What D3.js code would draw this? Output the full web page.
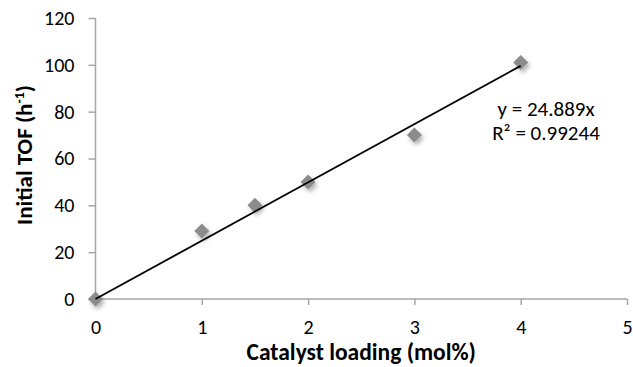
<!DOCTYPE html>
<html><head><meta charset="utf-8">
<script src="https://cdn.jsdelivr.net/npm/d3@7"></script>
<style>body{margin:0;background:#fff;} text{font-family:Carlito,"Open Sans","Liberation Sans",sans-serif;}</style>
</head><body>
<svg id="c" width="633" height="367"></svg>
<script>
const loading = [0, 1, 1.5, 2, 3, 4];
const tof = [0, 29, 40, 50, 70, 101];
const slope = 24.889;
const xTicks = [0, 1, 2, 3, 4, 5];
const yTicks = [0, 20, 40, 60, 80, 100, 120];
const eqLines = ["y = 24.889x", "R² = 0.99244"];

const svg = d3.select("#c");
const x = d3.scaleLinear().domain([0, 5]).range([95.5, 627]);
const y = d3.scaleLinear().domain([0, 120]).range([299, 18]);
const axisColor = "#a6a6a6";

const defs = svg.append("defs");
const f = defs.append("filter").attr("id", "sh").attr("x", "-60%").attr("y", "-60%").attr("width", "220%").attr("height", "220%");
f.append("feDropShadow").attr("dx", 2).attr("dy", 3).attr("stdDeviation", 2).attr("flood-color", "#000").attr("flood-opacity", 0.3);

const ya = svg.append("g").attr("transform", `translate(${x(0)},0)`)
  .call(d3.axisLeft(y).tickValues(yTicks).tickFormat(d3.format("d")).tickSize(7).tickPadding(14));
const xa = svg.append("g").attr("transform", `translate(0,${y(0)})`)
  .call(d3.axisBottom(x).tickValues(xTicks).tickFormat(d3.format("d")).tickSize(6).tickPadding(15));
[ya, xa].forEach(a => {
  a.selectAll("path,line").attr("stroke", axisColor).attr("stroke-width", 1.5);
  a.selectAll("text").attr("font-size", 20).attr("fill", "#000");
  a.select(".domain").attr("d", a === ya ? `M0,${y(120)}V${y(0)}` : `M${x(0)},0H${x(5)}`);
});

// markers
svg.append("g").selectAll("path").data(loading).join("path")
  .attr("d", d3.symbol().type(d3.symbolDiamond2).size(144))
  .attr("transform", (d, i) => `translate(${x(d)},${y(tof[i])})`)
  .attr("fill", "#8c8c8c").attr("filter", "url(#sh)");

// trendline
svg.append("line")
  .attr("x1", x(0)).attr("y1", y(0))
  .attr("x2", x(4)).attr("y2", y(slope * 4))
  .attr("stroke", "#000").attr("stroke-width", 1.8);

svg.append("g").selectAll("text").data(eqLines).join("text")
  .attr("x", 546).attr("y", (d, i) => 116 + i * 24)
  .attr("text-anchor", "middle").attr("font-size", 21).attr("fill", "#000").text(d => d);

svg.append("text").attr("x", (x(0) + x(5)) / 2).attr("y", 360)
  .attr("text-anchor", "middle").attr("font-size", 23.5).attr("font-weight", "bold").text("Catalyst loading (mol%)");

const yt = svg.append("text").attr("transform", `translate(32,155) rotate(-90)`)
  .attr("text-anchor", "middle").attr("font-size", 23).attr("font-weight", "bold");
yt.append("tspan").text("Initial TOF (h");
yt.append("tspan").attr("dy", -8).attr("font-size", 14).text("-1");
yt.append("tspan").attr("dy", 8).text(")");
</script>
</body></html>
